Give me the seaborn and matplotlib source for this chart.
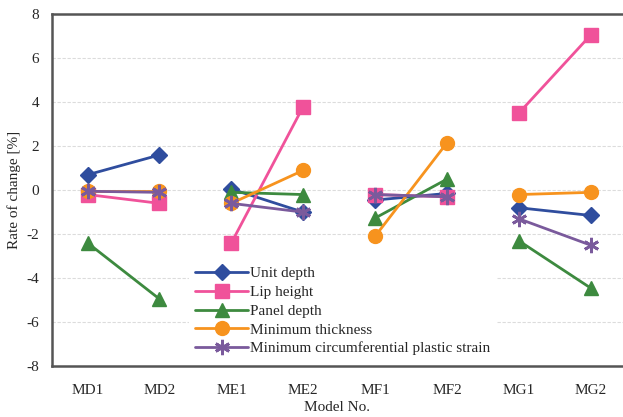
import matplotlib
matplotlib.use("Agg")
import matplotlib.pyplot as plt
import seaborn as sns
import pandas as pd
from matplotlib.lines import Line2D

models = ["MD1", "MD2", "ME1", "ME2", "MF1", "MF2", "MG1", "MG2"]
pairs = ["MD", "MD", "ME", "ME", "MF", "MF", "MG", "MG"]

unit_depth = [0.7, 1.6, 0.05, -1.0, -0.45, -0.15, -0.8, -1.15]
lip_height = [-0.2, -0.6, -2.4, 3.8, -0.2, -0.3, 3.5, 7.05]
panel_depth = [-2.4, -4.95, -0.1, -0.2, -1.27, 0.5, -2.3, -4.45]
min_thickness = [-0.05, -0.05, -0.6, 0.9, -2.1, 2.15, -0.2, -0.1]
min_strain = [-0.05, -0.1, -0.6, -1.0, -0.2, -0.3, -1.3, -2.5]

series = {
    "Unit depth": unit_depth,
    "Lip height": lip_height,
    "Panel depth": panel_depth,
    "Minimum thickness": min_thickness,
    "Minimum circumferential plastic strain": min_strain,
}

colors = {
    "Unit depth": "#2f4d9e",
    "Lip height": "#f0529a",
    "Panel depth": "#3d8a3f",
    "Minimum thickness": "#f7931e",
    "Minimum circumferential plastic strain": "#7a5a9c",
}
markers = {
    "Unit depth": "D",
    "Lip height": "s",
    "Panel depth": "^",
    "Minimum thickness": "o",
    "Minimum circumferential plastic strain": (6, 2, 0),
}
msizes = {
    "Unit depth": 8,
    "Lip height": 10,
    "Panel depth": 10,
    "Minimum thickness": 10,
    "Minimum circumferential plastic strain": 11,
}

rows = []
for name, vals in series.items():
    for i, (m, p, v) in enumerate(zip(models, pairs, vals)):
        rows.append({"series": name, "x": i, "pair": p, "value": v})
df = pd.DataFrame(rows)

sns.set_style("white")
plt.rcParams["font.family"] = ["Liberation Serif", "DejaVu Serif"]
plt.rcParams["axes.unicode_minus"] = False

fig, ax = plt.subplots(figsize=(6.23, 4.17), dpi=100)

# each pair of models is joined, nothing between pairs
for name in series:
    sub = df[df["series"] == name]
    for p, grp in sub.groupby("pair"):
        sns.lineplot(data=grp, x="x", y="value", ax=ax, color=colors[name],
                     marker=markers[name], markersize=msizes[name],
                     markeredgecolor=colors[name],
                     markeredgewidth=2 if name.startswith("Minimum circ") else 1,
                     linewidth=2, estimator=None, legend=False, zorder=3)

ax.set_ylim(-8, 8)
ax.set_yticks(range(-8, 9, 2))
ax.set_xlim(-0.5, 7.45)
ax.set_xticks(range(len(models)))
ax.set_xticklabels(models)
ax.yaxis.grid(True, color="#dcdcdc", linewidth=0.8, linestyle=(0, (3, 1.5)))
ax.tick_params(axis="y", labelsize=11, length=0, pad=9)
ax.tick_params(axis="x", labelsize=11, length=0, pad=13)
for s in ["left", "bottom", "top"]:
    ax.spines[s].set_color("#555555")
    ax.spines[s].set_linewidth(1.8)
ax.spines["right"].set_visible(False)
ax.set_xlabel("Model No.", fontsize=11, labelpad=3)
ax.set_ylabel("Rate of change [%]", fontsize=11, labelpad=4)

handles = [Line2D([], [], color=colors[n], marker=markers[n], markersize=msizes[n],
                  markeredgecolor=colors[n],
                  markeredgewidth=2 if n.startswith("Minimum circ") else 1,
                  linewidth=2, label=n) for n in series]
leg = ax.legend(handles=handles, loc="lower left", bbox_to_anchor=(0.232, 0.0),
                frameon=True, fontsize=11, handlelength=3.5, labelspacing=0.33,
                handletextpad=0.1, borderpad=0.4, borderaxespad=0.3)
leg.get_frame().set_edgecolor("none")
leg.get_frame().set_facecolor("white")
leg.get_frame().set_alpha(1)

fig.subplots_adjust(left=0.083, right=1.0, top=0.966, bottom=0.122)
fig.savefig("out.png", dpi=100)
